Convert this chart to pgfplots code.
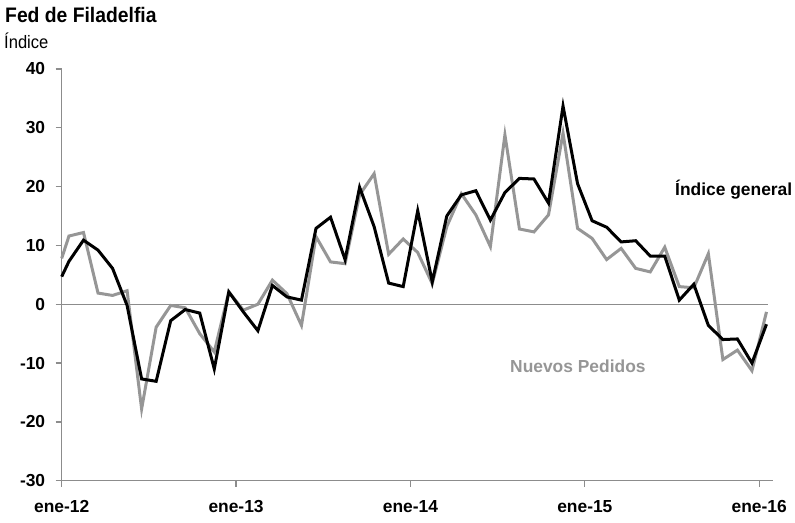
\documentclass[border=0pt]{standalone}
\usepackage{fontspec}
\setmainfont{Liberation Sans}
\newfontfamily\titlefont[FakeStretch=0.92]{Liberation Sans}
\usepackage{pgfplots}
\pgfplotsset{compat=1.18}
\definecolor{serieg}{RGB}{150,150,150}
\definecolor{axisg}{RGB}{140,140,140}
\begin{document}
\begin{tikzpicture}
\useasboundingbox (0,0) rectangle (795pt,522pt);
\begin{axis}[
  at={(61.7pt,41.3pt)}, anchor=south west,
  scale only axis, width=711.6pt, height=411.7pt,
  xmin=0, xmax=48.97, ymin=-30, ymax=40,
  axis x line*=bottom, axis y line*=left,
  axis line style={axisg, line width=1.3pt},
  xtick={0,12,24,36,48},
  xticklabels={ene-12,ene-13,ene-14,ene-15,ene-16},
  ytick={-30,-20,...,40},
  tick align=outside, major tick length=6pt,
  tick style={axisg, line width=1.3pt},
  /pgf/number format/assume math mode=true,
  tick label style={font=\fontsize{17.4}{20}\selectfont\bfseries},
  yticklabel style={xshift=-7pt},
  xticklabel style={yshift=-10pt},
  clip=false,
]
\addplot[axisg, line width=1.3pt] coordinates {(0,0) (48.6,0)};
\addplot[serieg, line width=3pt, line join=miter] coordinates {
(0,7.8) (0.5,11.6) (1.5,12.2) (2.5,1.9) (3.5,1.5) (4.5,2.3) (5.5,-17.8) (6.5,-3.9)
(7.5,-0.2) (8.5,-0.6) (9.5,-5.0) (10.5,-8.1) (11.5,2.1) (12.5,-1.0) (13.5,0.0)
(14.5,4.1) (15.5,1.8) (16.5,-3.6) (17.5,11.5) (18.5,7.2) (19.5,6.9) (20.5,18.6)
(21.5,22.2) (22.5,8.5) (23.5,11.1) (24.5,8.8) (25.5,3.5) (26.5,13.2) (27.5,18.8)
(28.5,15.2) (29.5,9.8) (30.5,28.8) (31.5,12.8) (32.5,12.3) (33.5,15.2) (34.5,29.1)
(35.5,12.9) (36.5,11.2) (37.5,7.6) (38.5,9.5) (39.5,6.1) (40.5,5.5) (41.5,9.7)
(42.5,3.0) (43.5,2.8) (44.5,8.6) (45.5,-9.4) (46.5,-7.8) (47.5,-11.3) (48.5,-1.3)
};
\addplot[black, line width=3pt, line join=miter] coordinates {
(0,4.7) (0.5,7.3) (1.5,10.9) (2.5,9.2) (3.5,6.1) (4.5,-0.2) (5.5,-12.7) (6.5,-13.1)
(7.5,-2.8) (8.5,-0.9) (9.5,-1.5) (10.5,-11.0) (11.5,2.1) (12.5,-1.3) (13.5,-4.5)
(14.5,3.2) (15.5,1.25) (16.5,0.7) (17.5,12.9) (18.5,14.8) (19.5,7.6) (20.5,19.9)
(21.5,13.2) (22.5,3.6) (23.5,3.0) (24.5,15.9) (25.5,3.8) (26.5,15.0) (27.5,18.6)
(28.5,19.3) (29.5,14.3) (30.5,19.0) (31.5,21.4) (32.5,21.3) (33.5,17.2) (34.5,33.7)
(35.5,20.5) (36.5,14.2) (37.5,13.1) (38.5,10.6) (39.5,10.8) (40.5,8.2) (41.5,8.2)
(42.5,0.7) (43.5,3.4) (44.5,-3.6) (45.5,-6.0) (46.5,-5.9) (47.5,-10.0) (48.5,-3.4)
};
\end{axis}
\node[anchor=base west, inner sep=0pt, font=\titlefont\fontsize{21}{24}\selectfont\bfseries] at (5pt,499.3pt) {Fed de Filadelfia};
\node[anchor=base west, inner sep=0pt, font=\titlefont\fontsize{18}{20}\selectfont] at (4pt,473.7pt) {Índice};
\node[anchor=west, inner sep=0pt, font=\fontsize{17.4}{20}\selectfont\bfseries] at (675pt,332pt) {Índice general};
\node[anchor=west, inner sep=0pt, text=serieg, font=\fontsize{17.4}{20}\selectfont\bfseries] at (510pt,155.3pt) {Nuevos Pedidos};
\end{tikzpicture}
\end{document}
